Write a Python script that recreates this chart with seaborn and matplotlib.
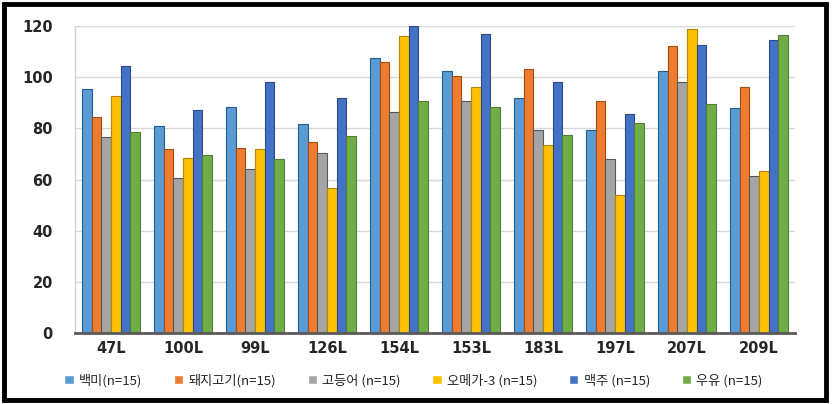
import matplotlib
matplotlib.use("Agg")
import matplotlib.pyplot as plt
import seaborn as sns
import pandas as pd
from matplotlib.patches import Rectangle

categories = ["47L", "100L", "99L", "126L", "154L", "153L", "183L", "197L", "207L", "209L"]
series_names = ["백미(n=15)", "돼지고기(n=15)", "고등어 (n=15)", "오메가-3 (n=15)", "맥주 (n=15)", "우유 (n=15)"]
rice = [95.5, 81, 88.5, 81.5, 107.5, 102.5, 92, 79.5, 102.5, 88]
pork = [84.5, 72, 72.5, 74.5, 106, 100.5, 103, 90.5, 112, 96]
mackerel = [76.5, 60.5, 64, 70.5, 86.5, 90.5, 79.5, 68, 98, 61.5]
omega3 = [92.5, 68.5, 72, 56.5, 116, 96, 73.5, 54, 119, 63.5]
beer = [104.5, 87, 98, 92, 120, 117, 98, 85.5, 112.5, 114.5]
milk = [78.5, 69.5, 68, 77, 90.5, 88.5, 77.5, 82, 89.5, 116.5]
yticks = [0, 20, 40, 60, 80, 100, 120]
colors = ["#5B9BD5", "#ED7D31", "#A5A5A5", "#FFC000", "#4472C4", "#70AD47"]

values = [rice, pork, mackerel, omega3, beer, milk]
rows = []
for name, vals in zip(series_names, values):
    for c, v in zip(categories, vals):
        rows.append({"cat": c, "series": name, "value": v})
df = pd.DataFrame(rows)

sns.set_theme(style="white")
plt.rcParams["font.family"] = ["Noto Sans CJK KR", "DejaVu Sans"]

fig = plt.figure(figsize=(8.36, 4.04), dpi=100)
ax = fig.add_axes([75 / 836, 1 - 333 / 404, (795 - 75) / 836, (333 - 26) / 404])

sns.barplot(data=df, x="cat", y="value", hue="series", order=categories,
            hue_order=series_names, palette=colors, width=0.8, gap=0,
            saturation=1, errorbar=None, ax=ax, legend=True)

for i, cont in enumerate(ax.containers):
    for p in cont:
        p.set_edgecolor(sns.utils.set_hls_values(colors[i], l=0.35))
        p.set_linewidth(0.8)

ax.set_ylim(0, 120)
ax.set_xlim(-0.5, 9.5)
ax.set_yticks(yticks)
ax.set_yticklabels([str(t) for t in yticks], fontsize=10.5, fontweight="bold",
                   family="DejaVu Sans")
ax.set_xticks(range(len(categories)))
ax.set_xticklabels(categories, fontsize=10.5, fontweight="bold", family="DejaVu Sans")
ax.tick_params(axis="y", length=0, pad=16)
ax.tick_params(axis="x", length=0, pad=6)
ax.set_xlabel("")
ax.set_ylabel("")
ax.yaxis.grid(True, color="#D9D9D9", linewidth=1)
ax.set_axisbelow(True)
for s in ["top", "right"]:
    ax.spines[s].set_visible(False)
ax.spines["left"].set_color("#D0D0D0")
ax.spines["left"].set_linewidth(1)
ax.spines["bottom"].set_color("#595959")
ax.spines["bottom"].set_linewidth(2)

handles, labels = ax.get_legend_handles_labels()
ax.legend(handles, labels, loc="center", bbox_to_anchor=(0.47, -0.155),
          ncol=6, frameon=False, fontsize=9.5, handlelength=0.7, handleheight=0.7,
          handletextpad=0.4, columnspacing=2.4)

fig.patches.append(Rectangle((4 / 836, 4 / 404), 822 / 836, 396 / 404,
                             transform=fig.transFigure, fill=False,
                             edgecolor="black", linewidth=3.5))

fig.savefig("out.png", dpi=100)
